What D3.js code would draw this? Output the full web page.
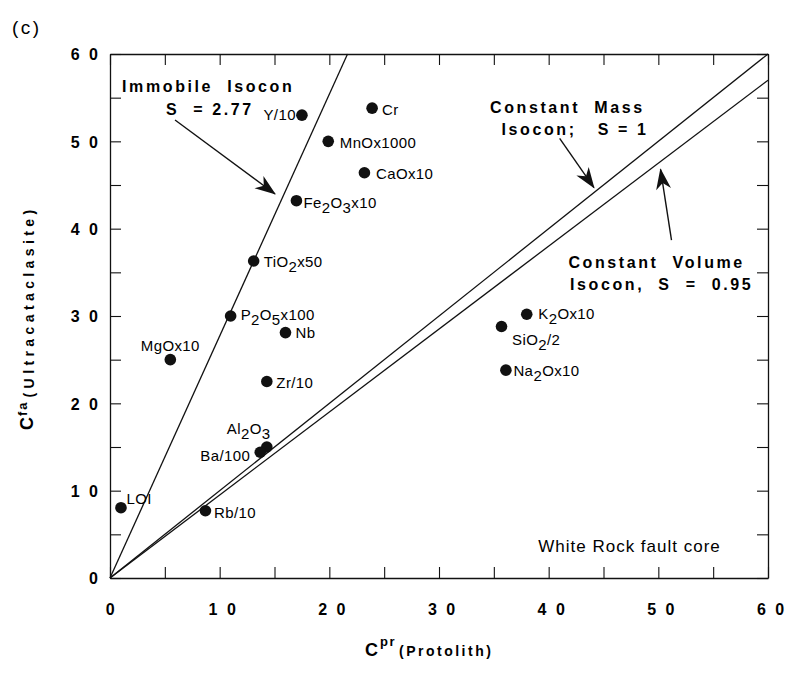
<!DOCTYPE html>
<html lang="en">
<head>
<meta charset="UTF-8">
<title>Isocon diagram - White Rock fault core</title>
<script src="https://d3js.org/d3.v7.min.js"></script>
<style>
  body { margin: 0; background: #fff; }
  svg { display: block; font-family: "Liberation Sans", Arial, Helvetica, sans-serif; }
  text { white-space: pre; fill: #000; }
</style>
</head>
<body>
<script>
// element labels ("_n" = subscript), protolith and ultracataclasite values
const names = ["Y/10", "Cr", "MnOx1000", "CaOx10", "Fe_2O_3x10", "TiO_2x50", "P_2O_5x100", "Nb",
               "MgOx10", "Zr/10", "Al_2O_3", "Ba/100", "LOI", "Rb/10", "K_2Ox10", "SiO_2/2", "Na_2Ox10"];
const protolith = [17.5, 23.9, 19.9, 23.2, 17.0, 13.1, 11.0, 16.0, 5.5, 14.3, 14.3, 13.7, 1.0, 8.7, 38.0, 35.7, 36.1];
const ultra     = [53.0, 53.8, 50.0, 46.4, 43.2, 36.3, 30.0, 28.1, 25.0, 22.5, 15.0, 14.4, 8.05, 7.7, 30.2, 28.8, 23.8];

// isocon slopes
const slopes = [2.77, 1, 0.95];

// ticks
const tickValues = d3.range(0, 61, 5);
const tickLabels = [0, 10, 20, 30, 40, 50, 60];

// label offsets in px (dx, dy, anchor)
const labelPos = [
  [-6, 5, "end"], [10, 7, "start"], [11.5, 6.5, "start"], [11.5, 6.5, "start"], [7, 7, "start"],
  [10, 6, "start"], [10, 4, "start"], [10, 5.5, "start"], [0, -8.5, "middle"], [9.5, 6.5, "start"],
  [-40, -13.5, "start"], [-10, 9, "end"], [5.5, -4, "start"], [8.5, 7.5, "start"],
  [11.5, 5, "start"], [10.5, 18.5, "start"], [7.5, 6, "start"]
];

// annotation text (data coords of text start / baseline)
const notes = [
  { t: "Immobile  Isocon", x: 1.1, y: 55.65 },
  { t: "S  = 2.77", x: 5.1, y: 53.0 },
  { t: "Constant  Mass", x: 34.65, y: 53.25 },
  { t: "Isocon;   S = 1", x: 35.7, y: 50.75 },
  { t: "Constant  Volume", x: 41.8, y: 35.5 },
  { t: "Isocon,  S  =  0.95", x: 41.95, y: 33.0 }
];
// arrows: tail -> tip, data coords
const arrows = [
  [[5.93, 52.44], [15.05, 43.97]],
  [[41.0, 50.35], [44.13, 44.7]],
  [[51.2, 38.7], [50.2, 46.8]]
];

const W = 787, H = 677;
const margin = { left: 110, right: 19, top: 54, bottom: 99 };

const svg = d3.select("body").append("svg")
  .attr("width", W).attr("height", H);

const x = d3.scaleLinear().domain([0, 60]).range([margin.left, W - margin.right]);
const y = d3.scaleLinear().domain([0, 60]).range([H - margin.bottom, margin.top]);

svg.append("defs").append("marker")
  .attr("id", "head")
  .attr("viewBox", "-22 -9 24 18")
  .attr("refX", 0).attr("refY", 0)
  .attr("markerWidth", 24).attr("markerHeight", 18)
  .attr("markerUnits", "userSpaceOnUse")
  .attr("orient", "auto")
  .append("path")
  .attr("d", "M1,0 L-20,-7.5 L-14,0 L-20,7.5 Z")
  .attr("fill", "#111");

// axes, ticks pointing inward; digits spaced out like the original ("6 0")
const tick = 11;
const ls = 2.5;
function styleAxis(g) {
  g.select(".domain").attr("stroke", "#111").attr("stroke-width", 1.3);
  g.selectAll(".tick line").attr("stroke", "#111").attr("stroke-width", 1.1);
  g.selectAll("text")
    .attr("font-family", "'Liberation Sans', Arial, sans-serif")
    .attr("font-size", 16).attr("font-weight", "bold")
    .attr("letter-spacing", ls).attr("fill", "#000")
    .style("white-space", "pre");
}
const fmt = d => tickLabels.includes(d) ? String(d).split("").join(" ") : "";

svg.append("g").attr("transform", `translate(0,${y(0)})`)
  .call(d3.axisBottom(x).tickValues(tickValues).tickSize(-tick).tickSizeOuter(0).tickPadding(26).tickFormat(fmt))
  .call(styleAxis)
  .call(g => g.selectAll("text").attr("dx", d => d >= 10 ? ls / 2 + 2 : 1));

svg.append("g").attr("transform", `translate(${x(0)},0)`)
  .call(d3.axisLeft(y).tickValues(tickValues).tickSize(-tick).tickSizeOuter(0).tickPadding(12).tickFormat(fmt))
  .call(styleAxis)
  .call(g => g.selectAll("text").attr("dx", ls).attr("dy", "0.36em"));

svg.append("g").attr("transform", `translate(0,${y(60)})`)
  .call(d3.axisTop(x).tickValues(tickValues).tickSize(-tick).tickSizeOuter(0).tickFormat(""))
  .call(styleAxis);

svg.append("g").attr("transform", `translate(${x(60)},0)`)
  .call(d3.axisRight(y).tickValues(tickValues).tickSize(-tick).tickSizeOuter(0).tickFormat(""))
  .call(styleAxis);

// isocon lines from origin to edge of plot
svg.append("g").selectAll("line")
  .data(slopes)
  .join("line")
  .attr("x1", x(0)).attr("y1", y(0))
  .attr("x2", s => x(s > 1 ? 60 / s : 60))
  .attr("y2", s => y(s > 1 ? 60 : 60 * s))
  .attr("stroke", "#111").attr("stroke-width", 1.3);

// points
const pts = names.map((n, i) => ({ n, px: protolith[i], py: ultra[i], pos: labelPos[i] }));

svg.append("g").selectAll("circle")
  .data(pts)
  .join("circle")
  .attr("cx", d => x(d.px)).attr("cy", d => y(d.py))
  .attr("r", 5.8).attr("fill", "#111");

// point labels with subscripts
const lab = svg.append("g").selectAll("text")
  .data(pts)
  .join("text")
  .attr("x", d => x(d.px) + d.pos[0])
  .attr("y", d => y(d.py) + d.pos[1])
  .attr("text-anchor", d => d.pos[2])
  .attr("font-size", 15)
  .attr("letter-spacing", 0.4);

lab.each(function (d) {
  const t = d3.select(this);
  const parts = d.n.split(/_(\d)/);
  parts.forEach((p, k) => {
    if (p === "") return;
    const sub = k % 2 === 1;
    const prevSub = k > 0 && (k - 1) % 2 === 1;
    t.append("tspan").text(p)
      .attr("dy", sub ? 5 : (prevSub ? -5 : null));
  });
});

// annotations
svg.append("g").selectAll("text")
  .data(notes)
  .join("text")
  .attr("x", d => x(d.x)).attr("y", d => y(d.y))
  .attr("font-size", 16).attr("font-weight", "bold")
  .attr("letter-spacing", 2.6)
  .text(d => d.t);

svg.append("g").selectAll("line")
  .data(arrows)
  .join("line")
  .attr("x1", d => x(d[0][0])).attr("y1", d => y(d[0][1]))
  .attr("x2", d => x(d[1][0])).attr("y2", d => y(d[1][1]))
  .attr("stroke", "#111").attr("stroke-width", 1.4)
  .attr("marker-end", "url(#head)");

svg.append("text")
  .attr("x", x(39.05)).attr("y", y(3.0))
  .attr("font-size", 17).attr("letter-spacing", 1)
  .text("White Rock fault core");

svg.append("text")
  .attr("x", 12).attr("y", 34)
  .attr("font-size", 19).attr("letter-spacing", 2.5)
  .text("(c)");

// axis titles
const xt = svg.append("text")
  .attr("x", 365).attr("y", 656)
  .attr("font-weight", "bold");
xt.append("tspan").attr("font-size", 18).text("C");
xt.append("tspan").attr("font-size", 13).attr("dx", 2).attr("dy", -10.5).attr("letter-spacing", 1.5).text("pr");
xt.append("tspan").attr("font-size", 14).attr("dx", 3).attr("dy", 10.5).attr("letter-spacing", 2.5).text("(Protolith)");

const yt = svg.append("text")
  .attr("transform", "translate(33,430) rotate(-90)")
  .attr("font-weight", "bold");
yt.append("tspan").attr("font-size", 18).text("C");
yt.append("tspan").attr("font-size", 13).attr("dx", 1).attr("dy", -6).attr("letter-spacing", 2).text("fa");
yt.append("tspan").attr("font-size", 14).attr("dx", 3).attr("dy", 7).attr("letter-spacing", 4.4).text("(Ultracataclasite)");
</script>
</body>
</html>
